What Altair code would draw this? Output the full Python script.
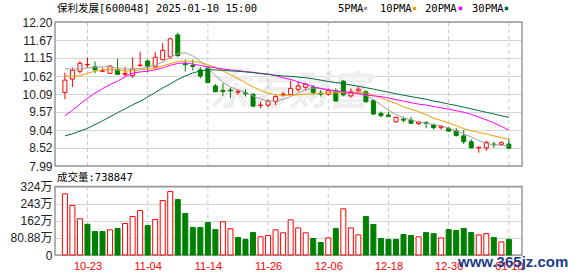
import json
import altair as alt
import pandas as pd

# ---------------- data ----------------
dates = ["10-18", "10-21", "10-22", "10-23", "10-24", "10-25", "10-28", "10-29", "10-30", "10-31",
         "11-01", "11-04", "11-05", "11-06", "11-07", "11-08", "11-11", "11-12", "11-13", "11-14",
         "11-15", "11-18", "11-19", "11-20", "11-21", "11-22", "11-25", "11-26", "11-27", "11-28",
         "11-29", "12-02", "12-03", "12-04", "12-05", "12-06", "12-09", "12-10", "12-11", "12-12",
         "12-13", "12-16", "12-17", "12-18", "12-19", "12-20", "12-23", "12-24", "12-25", "12-26",
         "12-27", "12-30", "12-31", "01-02", "01-03", "01-06", "01-07", "01-08", "01-09", "01-10"]

opens = [10.14, 10.53, 10.76, 10.95, 10.89, 10.76, 10.70, 10.80, 10.67, 10.63,
         10.93, 11.06, 10.89, 11.10, 11.18, 11.82, 10.98, 10.93, 10.80, 10.85,
         10.33, 10.20, 10.21, 10.15, 10.13, 10.09, 9.76, 9.77, 9.87, 10.07,
         10.08, 10.23, 10.29, 10.29, 10.12, 10.09, 10.19, 10.47, 10.04, 10.19,
         10.16, 9.90, 9.53, 9.48, 9.28, 9.36, 9.33, 9.23, 9.26, 9.19,
         9.11, 9.09, 9.02, 8.87, 8.70, 8.52, 8.52, 8.63, 8.62, 8.63]
highs = [10.72, 10.87, 11.06, 11.16, 11.05, 10.86, 10.94, 11.12, 10.89, 11.17,
         11.33, 11.11, 11.33, 11.58, 11.74, 11.89, 11.10, 11.10, 10.88, 10.90,
         10.39, 10.41, 10.28, 10.24, 10.23, 10.11, 9.87, 9.94, 10.07, 10.16,
         10.48, 10.45, 10.43, 10.36, 10.21, 10.26, 10.26, 10.50, 10.26, 10.31,
         10.21, 9.93, 9.58, 9.58, 9.43, 9.43, 9.43, 9.31, 9.31, 9.23,
         9.19, 9.14, 9.10, 9.04, 8.77, 8.54, 8.73, 8.70, 8.71, 8.80]
lows = [9.94, 10.30, 10.69, 10.85, 10.70, 10.73, 10.68, 10.65, 10.60, 10.57,
        10.89, 10.73, 10.82, 11.08, 11.12, 11.17, 10.75, 10.78, 10.55, 10.40,
        10.15, 10.04, 9.97, 10.07, 10.02, 9.72, 9.68, 9.71, 9.77, 10.02,
        10.07, 10.16, 10.19, 10.07, 10.02, 10.05, 9.87, 10.03, 9.99, 10.14,
        9.84, 9.48, 9.41, 9.41, 9.26, 9.27, 9.22, 9.19, 9.09, 9.06,
        9.05, 8.99, 8.85, 8.63, 8.50, 8.38, 8.43, 8.52, 8.59, 8.51]
closes = [10.50, 10.79, 10.99, 10.96, 10.80, 10.77, 10.91, 10.67, 10.70, 10.83,
          10.94, 10.91, 11.17, 11.37, 11.71, 11.22, 10.95, 10.90, 10.62, 10.43,
          10.16, 10.17, 10.19, 10.16, 10.10, 9.74, 9.77, 9.89, 10.02, 10.09,
          10.26, 10.33, 10.38, 10.14, 10.09, 10.19, 9.89, 10.07, 10.16, 10.24,
          9.87, 9.51, 9.46, 9.44, 9.41, 9.33, 9.24, 9.28, 9.23, 9.11,
          9.15, 9.01, 8.88, 8.70, 8.52, 8.54, 8.68, 8.61, 8.67, 8.51]

ma5 = [10.83, 10.83, 10.82, 10.86, 10.88, 10.89, 10.89, 10.85, 10.82, 10.83,
       10.84, 10.87, 10.94, 11.03, 11.17, 11.28, 11.30, 11.21, 11.05, 10.85,
       10.63, 10.44, 10.30, 10.21, 10.14, 10.04, 9.95, 9.89, 9.89, 9.94,
       10.02, 10.12, 10.22, 10.27, 10.25, 10.22, 10.16, 10.13, 10.11, 10.11,
       10.06, 9.93, 9.78, 9.62, 9.49, 9.40, 9.34, 9.28, 9.24, 9.20,
       9.16, 9.10, 9.02, 8.93, 8.84, 8.73, 8.65, 8.61, 8.60, 8.58]
ma10 = [10.63, 10.61, 10.63, 10.70, 10.76, 10.80, 10.82, 10.80, 10.76, 10.78,
        10.80, 10.82, 10.85, 10.92, 10.98, 11.05, 11.06, 11.05, 11.02, 10.95,
        10.88, 10.77, 10.66, 10.55, 10.42, 10.30, 10.20, 10.12, 10.08, 10.05,
        10.06, 10.07, 10.09, 10.10, 10.11, 10.12, 10.13, 10.14, 10.14, 10.14,
        10.13, 10.06, 9.98, 9.90, 9.82, 9.72, 9.65, 9.58, 9.49, 9.39,
        9.32, 9.25, 9.17, 9.08, 9.02, 8.97, 8.93, 8.87, 8.82, 8.77]
ma20 = [9.46, 9.62, 9.80, 9.97, 10.12, 10.25, 10.37, 10.47, 10.60, 10.70,
        10.74, 10.76, 10.80, 10.86, 10.93, 10.99, 11.00, 10.97, 10.93, 10.89,
        10.86, 10.83, 10.80, 10.78, 10.75, 10.73, 10.70, 10.68, 10.63, 10.57,
        10.52, 10.45, 10.38, 10.31, 10.26, 10.22, 10.19, 10.16, 10.13, 10.10,
        10.07, 10.04, 10.02, 9.98, 9.93, 9.89, 9.84, 9.80, 9.77, 9.73,
        9.69, 9.65, 9.61, 9.56, 9.50, 9.42, 9.34, 9.25, 9.15, 9.04]
ma30 = [8.87, 8.93, 9.01, 9.09, 9.20, 9.31, 9.43, 9.55, 9.66, 9.78,
        9.88, 10.01, 10.14, 10.27, 10.39, 10.52, 10.62, 10.71, 10.77, 10.80,
        10.80, 10.79, 10.77, 10.76, 10.74, 10.72, 10.69, 10.67, 10.64, 10.62,
        10.61, 10.59, 10.57, 10.54, 10.50, 10.46, 10.43, 10.40, 10.36, 10.32,
        10.28, 10.24, 10.19, 10.15, 10.10, 10.06, 10.02, 9.98, 9.94, 9.89,
        9.85, 9.80, 9.76, 9.71, 9.66, 9.61, 9.56, 9.51, 9.46, 9.41]

# volume in 万 (10k) hands
volumes = [289, 234, 171, 145, 111, 111, 119, 125, 149, 182,
           210, 139, 168, 257, 300, 262, 196, 130, 130, 153,
           120, 157, 124, 83, 73, 106, 86, 92, 119, 105,
           166, 128, 105, 78, 59, 81, 125, 218, 128, 95,
           182, 144, 78, 73, 73, 97, 92, 86, 106, 101,
           81, 120, 116, 125, 106, 95, 101, 83, 62, 73.88]
# 1 = volume bar red (close up vs previous close), 0 = green
vol_up = [1, 1, 1, 0, 0, 0, 1, 0, 1, 1,
          1, 0, 1, 1, 1, 0, 0, 0, 0, 0,
          0, 1, 1, 0, 0, 0, 1, 1, 1, 1,
          1, 1, 1, 0, 0, 1, 0, 1, 1, 1,
          0, 0, 0, 0, 0, 0, 0, 1, 0, 0,
          1, 0, 0, 0, 0, 1, 1, 0, 1, 0]

price_ticks = [7.99, 8.52, 9.04, 9.57, 10.09, 10.62, 11.15, 11.67, 12.20]
vol_ticks = [0, 80.88, 161.76, 242.64, 323.52]
label_idx = [4, 12, 20, 28, 36, 44, 52, 60]

title_text = "保利发展[600048] 2025-01-10 15:00"
vol_text = "成交量:738847"
legend_items = ["5PMA", "10PMA", "20PMA", "30PMA"]
ma_colors = ["#a0a0a0", "#f0a000", "#ff00ff", "#006b3a"]

# ---------------- styling ----------------
RED = "#ff0000"
GREEN = "#008000"
W = 467
H = 233
MAIN_H = 144
VOL_TOP = 164.5
MONO = "DejaVu Sans Mono, Noto Sans CJK SC"
SANS = "Liberation Sans, Noto Sans CJK SC"

df = pd.DataFrame({
    "i": list(range(1, len(dates) + 1)),
    "date": dates,
    "open": opens, "high": highs, "low": lows, "close": closes,
    "ma5": ma5, "ma10": ma10, "ma20": ma20, "ma30": ma30,
    "vol": volumes,
})
df["cs"] = [RED if c >= o else GREEN for o, c in zip(opens, closes)]
df["cf"] = ["#ffffff" if c >= o else GREEN for o, c in zip(opens, closes)]
df["vs"] = [RED if u else GREEN for u in vol_up]
df["vf"] = ["#ffffff" if u else GREEN for u in vol_up]

gdf = pd.DataFrame({"i": label_idx})
one = pd.DataFrame({"k": [0]})

xscale = alt.Scale(domain=[0.35, 61.08], nice=False, zero=False)
xaxis = alt.Axis(values=label_idx, labelExpr=json.dumps(dates) + "[datum.value - 1]",
                 grid=False, ticks=False, domain=False, labelColor=RED,
                 labelFont="Liberation Sans", labelFontSize=11, labelPadding=5,
                 title=None, labelFlush=False, labelOverlap=False)


def X():
    return alt.X("i:Q", scale=xscale, axis=xaxis)


yscale_m = alt.Scale(domain=[7.99, 12.20], range=[MAIN_H, 0], nice=False, zero=False)
yaxis_m = alt.Axis(values=price_ticks, format=".2f", grid=True, gridColor="#d6d6d6",
                   ticks=False, domain=False, labelPadding=3, labelFont=SANS,
                   labelFontSize=12, labelColor="#222222", title=None,
                   labelFlush=False, labelOverlap=False, orient="left")


def YM(field):
    return alt.Y(field, scale=yscale_m, axis=yaxis_m)


base = alt.Chart(df)

watermark = alt.Chart(one).mark_text(
    text="东方财富", font="Noto Sans CJK SC", fontSize=40, fontWeight="bold",
    color="#eeeeee", align="center", baseline="middle", fontStyle="italic"
).encode(x=alt.value(234), y=alt.value(71))

vgrid_m = alt.Chart(gdf).mark_rule(color="#c8c8c8", strokeDash=[4, 3], strokeWidth=1).encode(
    x=X(), y=alt.value(0), y2=alt.value(MAIN_H))
vgrid_v = alt.Chart(gdf).mark_rule(color="#c8c8c8", strokeDash=[4, 3], strokeWidth=1).encode(
    x=X(), y=alt.value(VOL_TOP), y2=alt.value(H))

wicks = base.mark_rule(strokeWidth=1).encode(
    x=X(), y=YM("low:Q"), y2="high:Q", color=alt.Color("cs:N", scale=None))
bodies = base.mark_bar(size=4, strokeWidth=1).encode(
    x=X(), y=YM("open:Q"), y2="close:Q",
    fill=alt.Fill("cf:N", scale=None), stroke=alt.Stroke("cs:N", scale=None))

ma_layers = []
for col, colr in zip(["ma5", "ma10", "ma20", "ma30"], ma_colors):
    ma_layers.append(base.mark_line(strokeWidth=1, color=colr).encode(x=X(), y=YM(col + ":Q")))

border_m = alt.Chart(one).mark_rect(fillOpacity=0, stroke="#999999", strokeWidth=1.5).encode(
    x=alt.value(0), x2=alt.value(W), y=alt.value(0), y2=alt.value(MAIN_H))
border_v = alt.Chart(one).mark_rect(fillOpacity=0, stroke="#999999", strokeWidth=1.5).encode(
    x=alt.value(0), x2=alt.value(W), y=alt.value(VOL_TOP), y2=alt.value(H))

title = alt.Chart(one).mark_text(text=title_text, font=MONO, fontSize=10.5, align="left",
                                 baseline="middle", color="#000000").encode(
    x=alt.value(2), y=alt.value(-13))
vol_title = alt.Chart(one).mark_text(text=vol_text, font=MONO, fontSize=10.5, align="left",
                                     baseline="middle", color="#000000").encode(
    x=alt.value(2), y=alt.value(VOL_TOP - 8.5))

legend_layers = []
leg_x = [283, 325, 370, 417]
sq_x = [310.5, 359.5, 405.5, 451.5]
for txt, lx, sx, colr in zip(legend_items, leg_x, sq_x, ma_colors):
    legend_layers.append(alt.Chart(one).mark_text(text=txt, font=MONO, fontSize=10.5, align="left",
                                                  baseline="middle", color="#000000").encode(
        x=alt.value(lx), y=alt.value(-13)))
    legend_layers.append(alt.Chart(one).mark_square(size=12, color=colr, opacity=1).encode(
        x=alt.value(sx), y=alt.value(-13.5)))

main = alt.layer(watermark, vgrid_m, vgrid_v, wicks, bodies, *ma_layers, border_m, border_v,
                 title, vol_title, *legend_layers)

yscale_v = alt.Scale(domain=[0, 323.52], range=[H, VOL_TOP], nice=False, zero=False)
yaxis_v = alt.Axis(values=vol_ticks, grid=True, gridColor="#d6d6d6", ticks=False, domain=False,
                   labelPadding=3, labelFont=SANS, labelFontSize=12, labelColor="#222222",
                   title=None, labelFlush=False, labelOverlap=False, orient="left",
                   labelExpr="datum.value == 0 ? '0' : (datum.value < 100 ? format(datum.value, '.2f') : format(datum.value, '.0f')) + '万'")

vol_bars = base.mark_bar(size=5, strokeWidth=1).encode(
    x=X(), y=alt.Y("vol:Q", scale=yscale_v, axis=yaxis_v), y2=alt.datum(0),
    fill=alt.Fill("vf:N", scale=None), stroke=alt.Stroke("vs:N", scale=None))

site = alt.Chart(one).mark_text(text="www.365jz.com", font="Liberation Sans", fontSize=15,
                                fontWeight="bold", color="#1e3c8c", align="left",
                                baseline="middle").encode(x=alt.value(403), y=alt.value(H + 7))

vol = alt.layer(vol_bars, site)

chart = alt.layer(main, vol).resolve_scale(y="independent").properties(
    width=W, height=H,
    padding={"left": 55, "top": 22, "right": 56, "bottom": 21},
    autosize=alt.AutoSizeParams(type="none"),
    background="#ffffff",
).configure_view(strokeWidth=0)

chart.save("out.html", embed_options={"renderer": "svg", "actions": False})
